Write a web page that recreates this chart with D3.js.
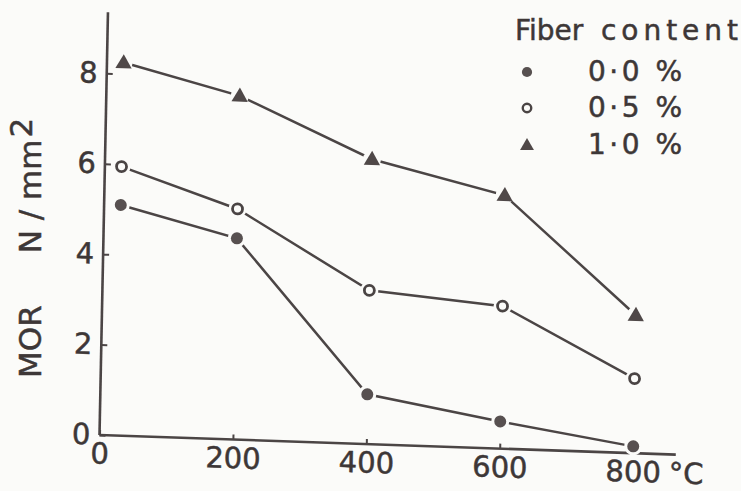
<!DOCTYPE html>
<html>
<head>
<meta charset="utf-8">
<script src="https://cdn.jsdelivr.net/npm/d3@7"></script>
<style>
  body { margin: 0; background: #fbfbf9; }
  text { font-family: "DejaVu Sans", sans-serif; fill: #3d3737; stroke: #3d3737; stroke-width: 0.5px; }
</style>
</head>
<body>
<div class="chartContainer"></div>
<script>
// values
const temps = [25, 200, 400, 600, 800];
const mor00 = [5.1, 4.45, 1.1, 0.6, 0.15];
const mor05 = [5.95, 5.1, 3.4, 3.15, 1.65];
const mor10 = [8.25, 7.6, 6.3, 5.6, 3.05];
const seriesNames = ["0·0 %", "0·5 %", "1·0 %"];
const xTicks = [0, 200, 400, 600, 800];
const yTicks = [0, 2, 4, 6, 8];

const w = 741;
const h = 491;
const ink = "#4b4545";

const svg = d3
  .select(".chartContainer")
  .append("svg")
  .attr("width", w)
  .attr("height", h)
  .style("background", "#fbfbf9");

// the scan is slightly skewed, so the plot is drawn in a sheared frame
const plot = svg
  .append("g")
  .attr("transform", "matrix(1,0.034,-0.02,1,99.5,435)");

const xScale = d3.scaleLinear().domain([0, 800]).range([0, 533.6]);
const yScale = d3.scaleLinear().domain([0, 8]).range([0, -361.7]);

const xAxis = d3.axisBottom(xScale).tickValues(xTicks).tickSizeInner(-5).tickSizeOuter(0).tickPadding(8);
const yAxis = d3.axisLeft(yScale).tickValues(yTicks).tickSizeInner(-6).tickSizeOuter(0).tickPadding(9);

const gx = plot.append("g").call(xAxis);
const gy = plot.append("g").call(yAxis);
[gx, gy].forEach((g) => {
  g.select(".domain").remove();
  g.selectAll("line").attr("stroke", ink).attr("stroke-width", 2);
  g.selectAll("text")
    .style("font-size", "29px")
    .style("font-family", "DejaVu Sans, sans-serif")
    .attr("fill", "#3d3737");
});

plot.append("line")
  .attr("x1", xScale(0)).attr("y1", yScale(0))
  .attr("x2", xScale(864)).attr("y2", yScale(0))
  .attr("stroke", ink).attr("stroke-width", 2.6);
plot.append("line")
  .attr("x1", xScale(0)).attr("y1", yScale(0))
  .attr("x2", xScale(0)).attr("y2", yScale(9.35))
  .attr("stroke", ink).attr("stroke-width", 2.6);

const series = [mor00, mor05, mor10];
const line = d3
  .line()
  .x((d, i) => xScale(temps[i]))
  .y((d) => yScale(d));

series.forEach((vals) => {
  plot.append("path")
    .datum(vals)
    .attr("d", line)
    .attr("fill", "none")
    .attr("stroke", ink)
    .attr("stroke-width", 2.5);
});

function drawMarker(g, k, x, y, small) {
  const s = small ? 0.85 : 1;
  if (k === 0) {
    g.append("circle").attr("cx", x).attr("cy", y).attr("r", 6 * s)
      .attr("fill", "#575050");
  } else if (k === 1) {
    g.append("circle").attr("cx", x).attr("cy", y).attr("r", 5 * s)
      .attr("fill", "#fbfbf9").attr("stroke", "#4a4444").attr("stroke-width", 2.8 * s);
  } else {
    g.append("path")
      .attr("d", d3.symbol().type(d3.symbolTriangle).size(115 * s * s)())
      .attr("transform", "translate(" + x + "," + (y + 1) + ")")
      .attr("fill", "#4f4848");
  }
}

series.forEach((vals, k) => {
  vals.forEach((v, i) => {
    plot.append("circle")
      .attr("cx", xScale(temps[i]))
      .attr("cy", yScale(v))
      .attr("r", 9)
      .attr("fill", "#fbfbf9");
    drawMarker(plot, k, xScale(temps[i]), yScale(v), false);
  });
});

plot.append("text")
  .attr("x", xScale(800) + 36)
  .attr("y", 8)
  .attr("dy", "0.71em")
  .style("font-size", "29px")
  .text("°C");

// y axis title
const yTitle = svg.append("text")
  .attr("transform", "translate(41,378) rotate(-90)")
  .style("font-size", "31px");
yTitle.append("tspan").text("MOR");
yTitle.append("tspan").attr("dx", 52).text("N / mm");
yTitle.append("tspan").attr("dy", -9).attr("dx", 2).text("2");

// legend
const legend = svg.append("g");
const title = legend.append("text").attr("y", 40).style("font-size", "28px");
title.append("tspan").attr("x", 515).text("Fiber");
title.append("tspan").attr("x", 601).attr("textLength", 137).attr("lengthAdjust", "spacing").text("content");

const legendY = [81, 117, 154];
seriesNames.forEach((name, k) => {
  drawMarker(legend, k, 527, legendY[k] - 9, true);
  legend.append("text")
    .attr("x", 588)
    .attr("y", legendY[k])
    .attr("textLength", 94)
    .attr("lengthAdjust", "spacing")
    .style("font-size", "28px")
    .text(name);
});
</script>
</body>
</html>
